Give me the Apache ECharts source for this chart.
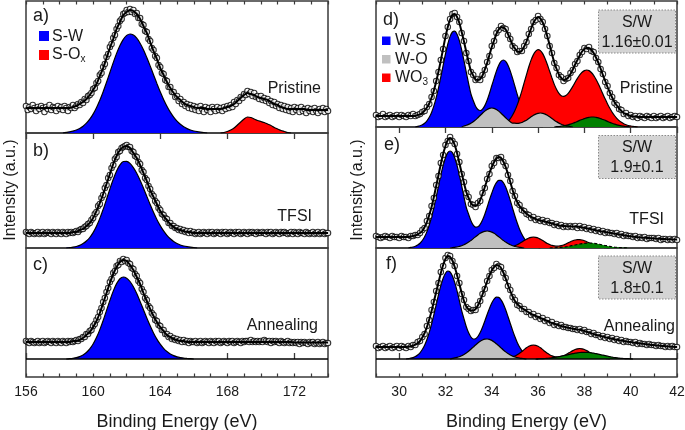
<!DOCTYPE html>
<html><head><meta charset="utf-8">
<script src="https://cdn.jsdelivr.net/npm/echarts@6/dist/echarts.min.js"></script>
<style>html,body{margin:0;padding:0;background:#fff}#c{width:685px;height:430px}</style>
</head><body><div id="c"></div>
<script>
// ---------- energy grids ----------
const leftStart = 156, leftEnd = 174, rightStart = 29, rightEnd = 42;
const dataStep = 0.1, leftFitStep = 0.2, compStep = 0.2, rCompStep = 0.1;
const leftMajorTicks = [156, 160, 164, 168, 172];
const rightMajorTicks = [30, 32, 34, 36, 38, 40, 42];

// ---------- S 2p (left column) measured data, 0.1 eV steps from 156 ----------
const aData = [27,23,26,24,28,25,22,26,24,27, 25,21,26,24,28,23,26,25,22,27, 24,26,23,27,25,22,26,25,28,25,
 27,29,28,31,30,34,33,37,38,40, 44,45,50,52,58,60,66,69,76,79, 86,89,95,98,104,107,112,114,119,120,
 123,121,124,121,123,119,120,115,115,109, 108,102,101,94,92,85,83,77,75,68, 66,60,59,53,52,46,46,41,41,36,
 37,32,34,29,31,27,29,25,28,24, 27,23,26,22,27,24,21,26,23,25, 21,26,24,22,26,23,25,22,26,24,
 27,25,28,26,31,29,33,32,36,35, 39,38,42,39,41,37,40,36,37,34, 37,33,35,32,34,30,32,28,31,27,
 29,25,28,24,27,23,26,22,25,21, 26,23,25,21,26,22,24,20,25,22, 24,21,25,22,20,24,22,25,21,24, 22];
const bData = [16,15,14,16,15,14,15,16,14,15, 16,14,15,16,15,14,16,15,14,16, 15,14,16,15,14,16,15,16,15,16,
 17,16,18,19,19,21,22,24,25,28, 30,34,36,42,44,50,53,60,63,70, 73,80,83,89,91,96,97,100,101,102,
 103,101,101,97,96,92,91,86,84,78, 76,70,68,62,59,54,52,47,45,40, 38,34,33,30,29,25,25,22,22,20,
 20,18,19,17,18,16,17,15,17,15, 16,14,15,16,14,15,16,15,14,16, 15,16,14,15,16,15,14,16,15,16,
 14,15,16,15,14,16,15,16,14,15, 16,15,14,16,15,16,15,14,16,15, 15,16,15,14,16,15,16,14,15,16,
 15,14,16,15,16,15,14,15,16,14, 16,15,14,16,15,15,14,16,15,14, 15,16,14,15,16,14,15,16,14,15, 15];
const cData = [18,17,16,18,17,16,17,18,16,17, 18,16,17,18,17,16,18,17,16,18, 17,16,18,17,16,18,17,18,17,18,
 19,18,20,20,22,22,25,25,28,29, 33,35,39,42,47,51,57,61,67,71, 77,80,86,88,93,94,98,97,100,98,
 99,96,95,91,90,85,83,78,76,70, 67,61,59,53,51,46,44,39,38,34, 33,29,29,25,25,22,23,20,21,19,
 20,18,19,17,19,17,18,16,18,17, 17,18,16,17,18,16,17,18,17,16, 18,17,16,18,17,18,16,17,18,17,
 16,18,17,18,16,17,18,17,16,18, 17,18,18,17,19,17,18,17,18,17, 18,17,19,18,17,18,16,18,17,18,
 17,16,18,17,16,17,18,16,17,16, 17,16,17,15,17,16,17,16,15,17, 16,17,15,16,17,15,16,17,15,16, 16];

// ---------- S 2p fitted envelopes, 0.2 eV steps from 156 ----------
const aFit = [25,25,25,25,25,25,25,25,25,25, 25,25,25,25,26,27,29,31,34,38, 43,49,57,65,75,85,94,104,111,118,
 121,123,122,119,114,107,100,91,82,74, 65,58,51,45,40,36,33,30,28,27, 26,25,25,25,24,24,24,24,24,25,
 26,27,29,32,35,38,40,39,38,36, 35,34,33,31,29,28,26,25,24,24, 24,24,24,24,23,23,23,23,23,23, 23];
const bFit = [15,15,15,15,15,15,15,15,15,15, 15,15,15,15,16,16,18,19,22,25, 30,37,45,54,64,74,84,92,98,101,
 102,100,95,90,83,75,67,58,51,44, 37,32,28,24,21,19,18,17,16,16, 15,15,15,15,15,15,15,15,15,15,
 15,15,15,15,15,15,15,15,15,15, 15,15,15,15,15,15,15,15,15,15, 15,15,15,15,15,15,15,15,15,15, 15];
const cFit = [17,17,17,17,17,17,17,17,17,17, 17,17,17,17,18,18,19,21,24,27, 32,38,46,56,66,76,85,92,97,99,
 98,94,89,82,75,66,58,50,43,37, 32,28,24,22,20,19,18,18,17,17, 17,17,17,17,17,17,17,17,17,17,
 17,17,17,17,17,17,17,17,17,17, 17,17,17,17,17,17,17,17,17,17, 16.5,16.5,16.5,16.5,16.5,16.5,16.5,16.5,16.5,16.5, 16.5];

// ---------- S 2p components, 0.2 eV steps ----------
const aSWFrom = 158.2;
const aSW = [0,0.7,1.2,1.9,3.0,4.6,6.8,9.8,13.8,18.9,25.3,32.7,41.3,50.7,60.5,70.4,79.6,87.5,93.7,97.6,99,
 97.9,94.8,89.8,83.3,75.5,67.1,58.3,49.6,41.2,33.6,26.8,20.9,15.9,11.9,8.7,6.2,4.4,3.0,2.0,1.3,0.8,0.5,0];
const aSOxFrom = 167.6;
const aSOx = [0,0.5,1.5,3,5,8,11,14,16,15.5,14,12.5,11.5,10.5,9,7.5,5.5,4,2.5,1.5,0.5,0];
const bSWFrom = 158.4;
const bSW = [0,0.4,0.8,1.5,2.6,4.4,7.0,10.5,15.4,21.8,29.6,38.7,48.7,59.0,68.7,77.1,83.2,86.5,86.7,84.6,80.4,
 74.7,67.7,59.9,51.7,43.5,35.8,28.6,22.4,17.1,12.7,9.2,6.5,4.5,3.0,2.0,1.3,0.8,0.5,0];
const cSWFrom = 158.4;
const cSW = [0,0.3,0.7,1.3,2.4,4.0,6.5,10.1,15.0,21.4,29.4,38.5,48.6,58.6,67.9,75.4,80.3,82,80.8,77.5,72.2,
 65.4,57.6,49.3,41.0,33.2,26.1,19.9,14.8,10.7,7.5,5.1,3.4,2.2,1.4,0.8,0.5,0.3,0];

// ---------- W 4f (right column) measured data, 0.1 eV steps from 29 ----------
const dData = [12,10,11,13,10,11,12,10,11,12, 10,12,11,10,12,11,13,11,12,13, 15,16,20,23,30,36,46,55,67,78,
 91,100,108,113,114,110,105,94,86,74, 66,55,52,47,48,47,52,57,65,71, 81,86,94,97,101,99,98,92,88,81,
 79,75,76,76,81,85,93,98,105,107, 111,108,105,98,91,81,74,64,59,52, 50,46,48,49,54,57,63,66,72,75,
 79,78,80,76,75,69,65,58,53,45, 41,34,30,24,22,18,17,13,14,11, 12,10,11,9,11,10,9,11,10,9,
 11,9,10,11,9,10,11,9,10,11, 10];
const eData = [12,11,10,11,12,11,10,12,11,11, 10,12,11,11,10,12,12,13,13,15, 18,20,27,32,42,50,63,72,85,93,
 103,107,111,107,104,94,86,74,66,55, 51,44,43,41,45,47,55,60,69,74, 82,85,90,90,91,86,82,73,67,57,
 52,45,43,38,37,34,33,30,31,28, 29,27,28,26,27,25,25,23,24,22, 23,21,22,21,22,21,22,20,22,20,
 21,19,20,18,19,17,18,16,17,15, 16,15,15,14,15,13,14,12,13,12, 12,11,12,10,11,10,11,9,10,10,
 10,9,10,8,9,9,8,9,8,9, 8];
const fData = [13,11,12,13,11,12,13,11,12,13, 11,13,12,11,13,12,14,14,17,18, 22,25,33,39,49,57,68,76,87,93,
 101,104,103,98,93,83,76,65,59,52, 50,48,49,49,54,58,65,70,78,83, 89,91,95,93,92,86,81,73,69,62,
 59,54,53,50,50,47,47,44,45,42, 43,40,41,38,39,36,37,34,35,33, 34,32,32,31,31,30,30,29,30,28,
 29,27,27,25,26,24,24,22,23,21, 22,20,21,19,20,18,19,17,18,17, 17,16,17,15,16,15,15,14,15,14,
 14,13,14,13,13,12,13,12,13,12, 12];

// ---------- W 4f fitted envelopes, 0.1 eV steps from 29 ----------
const dFit = [11,11,11,11,11,11,11,11,11,11, 11,11,11,11,11,11,11,11,12,12.5, 14,16.5,19.5,23.5,29.5,36.5,45.5,55.5,66.5,78.5,
 90,100,107.5,112,113,110,104,95,85.5,75, 65,56,51.5,47.5,47,48,51.5,57.5,64,72, 80,86.5,93,97.5,100,99.5,97.5,93,87.5,82,
 78.5,75.5,75,76.5,80.5,85.5,92,98.5,104,108, 110,108.5,104.5,98.5,90.5,82,73,64.5,58,52.5, 49,47,47.5,49.5,53,57.5,62.5,67,71.5,75.5,
 78,79,79,77,74,69.5,64.5,58.5,52,46, 40,34.5,29.5,25,21.5,18.5,16,14,13,12, 11,10.5,10.5,10,10,10,10,10,10,10,
 10,10,10,10,10,10,10,10,10,10, 10];
const eFit = [11,11,11,11,11,11,11,11,11,11, 11,11,11,11,11,11.5,12,12.5,13.5,15, 17,21,26,33,41,51,62,73,84,94,
 102,108,110,108,103,95,85,75,65,56, 50,45,42.5,42,44,48,54,61,68,75, 81,86,89.5,91,90,86.5,81,74,66,58,
 51,46,42,39,36.5,34.5,32.5,31,30,29, 28,27.5,27,26.5,26,25.2,24.5,23.8,23.2,22.6, 22.2,22,21.8,21.7,21.6,21.5,21.4,21.2,21,20.6,
 20.2,19.7,19.2,18.7,18.2,17.7,17.2,16.8,16.4,16, 15.6,15.2,14.8,14.4,14,13.6,13.2,12.8,12.4,12, 11.7,11.4,11.1,10.8,10.6,10.4,10.2,10,9.9,9.7,
 9.6,9.4,9.3,9.1,9,8.9,8.8,8.7,8.6,8.5, 8.4];
const fFit = [12,12,12,12,12,12,12,12,12,12, 12,12,12,12,12.3,12.7,13.3,14.3,15.8,18, 21.5,26,32,39.5,48,57.5,67,76.5,86,94,
 100,103,102,98.5,92,84,75,66,58,52.5, 49.5,48.5,48.5,50,53.5,58.5,64.5,71,77.5,83.5, 88.5,92,94,93.5,91,86.5,80.5,74,68,62.5,
 58,55,52.8,51,49.5,48,46.5,45,44,43, 42,41,40,39,38,37,36,35.2,34.4,33.7, 33,32.4,31.8,31.3,30.8,30.3,29.9,29.5,29.2,28.7,
 28,27.2,26.5,25.8,25,24.3,23.6,23,22.4,21.8, 21.2,20.7,20.2,19.7,19.2,18.8,18.4,18,17.6,17.2, 16.9,16.5,16.2,15.9,15.6,15.3,15,14.7,14.4,14.1,
 13.9,13.6,13.4,13.2,13,12.8,12.6,12.5,12.3,12.1, 12];

// ---------- W 4f components, 0.1 eV steps ----------
const dWSFrom = 30.7;
const dWS = [0,0.7,1.3,2.2,3.8,6.2,9.7,14.6,21.1,29.3,39.1,50.1,61.7,73.0,82.9,90.6,95.0,95.8,92.8,86.4,77.2,66.3,54.7,
 43.4,33.0,26.5,20.8,17.5,16.5,17.9,21.4,26.7,33.5,41.2,48.6,55.9,61.8,65.7,67,65.7,61.8,55.9,48.6,40.7,32.6,25.1,18.6,
 13.3,9.0,6.0,3.8,2.3,1.4,0.8,0.4,0];
const dWOFrom = 32.7;
const dWO = [0,1.0,1.7,2.6,3.8,5.3,7.1,9.3,11.5,13.8,15.9,17.5,18.6,19.0,18.6,17.5,15.9,13.8,11.5,9.3,7.1,5.3,3.8,3.8,3.6,
 3.9,4.5,5.7,6.8,8.5,10.2,11.7,12.9,13.7,14.0,13.7,12.9,11.7,10.2,8.5,6.8,5.3,3.9,2.8,1.9,1.2,0.8,0.4,0];
const dWO3From = 34.1;
const dWO3 = [0,0.5,0.9,1.5,2.4,3.8,5.7,8.4,12.0,16.5,22.1,28.8,36.2,44.3,52.4,60.2,67.1,72.4,75.8,77.4,76.4,73.4,68.6,
 62.5,55.7,49.0,42.6,37.5,33.6,31.3,30.7,31.5,33.6,36.8,40.6,44.7,48.6,52.1,54.8,56.4,57,56.4,54.5,51.6,47.7,43.2,38.2,
 33.0,27.9,23.1,18.7,14.8,11.5,8.7,6.4,4.7,3.3,2.3,1.5,1.0,0.6,0.4,0];
const dW5pFrom = 36.7;
const dW5p = [0,0.35,0.5,0.8,1.1,1.6,2.2,2.9,3.7,4.6,5.6,6.6,7.5,8.4,9.2,9.7,10.0,10.0,9.7,9.2,8.4,7.5,6.6,5.6,4.6,3.7,
 2.9,2.2,1.6,1.1,0.8,0.5,0.35,0];

const eWSFrom = 30.4;
const eWS = [0,0.6,1.0,1.8,3.0,4.8,7.5,11.3,16.4,23.0,31.0,40.5,51.1,62.2,72.9,82.6,90.3,95.3,97.0,95.3,90.3,82.6,72.9,
 62.2,51.1,40.5,33.7,27.2,22.9,20.9,21.2,23.6,28.0,33.8,40.7,48.1,54.7,60.9,65.3,67.7,67.7,65.3,60.9,54.7,47.5,39.7,
 32.0,25.0,18.8,13.7,9.6,6.5,4.2,2.7,1.6,0.9,0.5,0];
const eWOFrom = 32.2;
const eWO = [0,0.4,0.7,1.0,1.6,2.3,3.3,4.5,5.9,7.6,9.4,11.3,13.1,14.7,15.9,16.7,17,16.7,15.9,14.7,13.1,11.3,9.4,7.6,5.9,
 4.5,3.3,2.3,1.6,1.0,0.7,0.4,0];
const eWO3From = 34.5;
const eWO3 = [0,0.3,0.6,0.9,1.5,2.3,3.3,4.5,5.9,7.4,8.8,10.0,10.7,11.0,10.7,10.0,8.8,7.4,5.9,4.5,3.5,2.6,2.1,1.8,2.0,
 2.4,3.0,4.0,5.2,6.3,7.3,8.0,8.4,8.4,8.0,7.3,6.3,5.2,4.0,3.0,2.1,1.4,0.9,0.6,0.3,0.2,0];
const eW5pFrom = 36.5;
const eW5p = [0,0.15,0.2,0.3,0.5,0.7,0.9,1.2,1.6,2.1,2.5,3.0,3.5,4.0,4.4,4.7,4.9,5.0,4.9,4.7,4.4,4.0,3.5,3.0,2.5,2.1,
 1.6,1.2,0.9,0.7,0.5,0.3,0.2,0.15,0];

const fWSFrom = 30.3;
const fWS = [0,0.4,0.8,1.4,2.4,4.0,6.2,9.5,13.8,19.5,26.6,35.0,44.4,54.4,64.3,73.3,80.7,85.8,88.0,87.0,83.1,76.6,68.1,
 58.4,48.4,40.1,32.3,26.2,22.0,20.0,20.3,22.5,26.4,31.7,37.9,44.5,50.5,56.0,59.9,61.8,61.6,59.2,55.0,49.2,42.5,35.5,
 28.6,22.2,16.6,12.0,8.4,5.7,3.7,2.3,1.4,0.8,0.4,0];
const fWOFrom = 32.2;
const fWO = [0,0.7,1.1,1.6,2.3,3.3,4.6,6.1,7.8,9.8,11.9,14.0,16.0,17.7,19.0,19.8,20.0,19.6,18.6,17.1,15.2,13.2,11.1,9.0,
 7.1,5.4,4.0,2.9,2.0,1.4,0.9,0.6,0.4,0];
const fWO3From = 34.6;
const fWO3 = [0,0.7,1.2,1.9,2.9,4.2,5.8,7.5,9.4,11.2,12.7,13.7,14.0,13.7,12.7,11.2,9.4,7.5,5.8,4.2,3.2,2.4,2.1,2.1,2.6,
 3.1,4.3,5.7,7.1,8.4,9.5,10.2,10.5,10.2,9.5,8.4,7.1,5.7,4.3,3.1,2.2,1.4,0.9,0.5,0.3,0];
const fW5pFrom = 35.9;
const fW5p = [0,0.2,0.3,0.4,0.5,0.7,0.9,1.2,1.5,1.9,2.3,2.8,3.3,3.8,4.3,4.9,5.4,5.8,6.2,6.5,6.6,6.7,6.6,6.5,6.2,5.8,
 5.4,4.9,4.3,3.8,3.3,2.8,2.3,1.9,1.5,1.2,0.9,0.7,0.5,0.4,0.3,0.2,0];

// ---------- texts ----------
const panelLetters = ['a)','b)','c)','d)','e)','f)'];
const sampleNames = ['Pristine','TFSI','Annealing'];
const ratioValues = ['1.16±0.01','1.9±0.1','1.8±0.1'];
const xTitle = 'Binding Energy (eV)';
const yTitle = 'Intensity (a.u.)';

// ---------- build ----------
const FONT = '"Liberation Sans", Arial, Helvetica, sans-serif';
const INK = '#1a1a1a';
const BLUE = '#0000ff', RED = '#ff0000', GRAY = '#c0c0c0', GREEN = '#008000';
function pairs(from, step, arr) { return arr.map((v, i) => [Math.round((from + i * step) * 100) / 100, v]); }

const grids = [
  {left: 26, top: 1, width: 302, height: 132},
  {left: 26, top: 133, width: 302, height: 115},
  {left: 26, top: 248, width: 302, height: 129},
  {left: 376, top: 1, width: 301, height: 126},
  {left: 376, top: 127, width: 301, height: 121},
  {left: 376, top: 248, width: 301, height: 129}
].map(g => Object.assign({show: true, borderColor: '#3a3a3a', borderWidth: 1.5, backgroundColor: 'transparent',
  containLabel: false, outerBoundsMode: 'none'}, g));

const yRanges = [[0, 132], [0, 115], [-18, 111], [0, 126], [0, 121], [-18, 111]];
const yAxes = yRanges.map((r, i) => ({gridIndex: i, type: 'value', min: r[0], max: r[1], show: false}));

function majorAxis(gi, min, max, ticks, pos, withLabels) {
  return {gridIndex: gi, type: 'value', min, max, position: pos,
    axisLine: {show: false}, splitLine: {show: false},
    axisTick: {show: true, inside: true, length: 6, customValues: ticks, lineStyle: {color: '#3a3a3a', width: 1.3}},
    axisLabel: {show: withLabels, customValues: ticks, color: INK, fontSize: 14, fontFamily: FONT, margin: 8},
    name: withLabels ? xTitle : '', nameLocation: 'middle', nameGap: 36,
    nameTextStyle: {color: INK, fontSize: 18, fontFamily: FONT}};
}
function minorAxis(gi, min, max, pos) {
  return {gridIndex: gi, type: 'value', min, max, interval: 1, position: pos,
    axisLine: {show: false}, splitLine: {show: false}, axisLabel: {show: false},
    axisTick: {show: true, inside: true, length: 3.5, lineStyle: {color: '#3a3a3a', width: 1.2}}};
}
function hiddenAxis(gi, min, max) { return {gridIndex: gi, type: 'value', min, max, show: false}; }

const xAxes = [
  majorAxis(0, leftStart, leftEnd, leftMajorTicks, 'top', false),   // 0
  minorAxis(0, leftStart, leftEnd, 'top'),                            // 1
  hiddenAxis(1, leftStart, leftEnd),                                  // 2
  majorAxis(2, leftStart, leftEnd, leftMajorTicks, 'bottom', true),   // 3
  minorAxis(2, leftStart, leftEnd, 'bottom'),                         // 4
  majorAxis(3, rightStart, rightEnd, rightMajorTicks, 'top', false),  // 5
  minorAxis(3, rightStart, rightEnd, 'top'),                          // 6
  hiddenAxis(4, rightStart, rightEnd),                                // 7
  majorAxis(5, rightStart, rightEnd, rightMajorTicks, 'bottom', true),// 8
  minorAxis(5, rightStart, rightEnd, 'bottom')                        // 9
];
const xIdx = [0, 2, 3, 5, 7, 8];

function comp(name, color, gi, from, step, arr, z, dashed) {
  return {type: 'line', name, xAxisIndex: xIdx[gi], yAxisIndex: gi, data: pairs(from, step, arr),
    symbol: 'none', smooth: 0.3, silent: true, z,
    lineStyle: {color: '#000', width: 1.2, type: dashed ? [3, 2] : 'solid'},
    itemStyle: {color}, areaStyle: {color, opacity: 1}};
}
function fit(gi, from, step, arr) {
  return {type: 'line', name: 'fit', xAxisIndex: xIdx[gi], yAxisIndex: gi, data: pairs(from, step, arr),
    symbol: 'none', smooth: 0.3, silent: true, z: 6, lineStyle: {color: '#000', width: 2}};
}
function meas(gi, from, arr) {
  return {type: 'scatter', name: 'data', xAxisIndex: xIdx[gi], yAxisIndex: gi, data: pairs(from, dataStep, arr),
    symbol: 'circle', symbolSize: 5.5, silent: true, z: 5,
    itemStyle: {color: '#fff', borderColor: '#000', borderWidth: 1.1}};
}
const baseLine = {silent: true, symbol: 'none', label: {show: false}, animation: false,
  lineStyle: {color: '#000', width: 1.5, type: 'solid'}, data: [{yAxis: 0}]};

const series = [
  comp('S-W', BLUE, 0, aSWFrom, compStep, aSW, 2), comp('S-Ox', RED, 0, aSOxFrom, compStep, aSOx, 2),
  meas(0, leftStart, aData), fit(0, leftStart, leftFitStep, aFit),
  comp('S-W', BLUE, 1, bSWFrom, compStep, bSW, 2),
  meas(1, leftStart, bData), fit(1, leftStart, leftFitStep, bFit),
  Object.assign(comp('S-W', BLUE, 2, cSWFrom, compStep, cSW, 2), {markLine: baseLine}),
  meas(2, leftStart, cData), fit(2, leftStart, leftFitStep, cFit),

  comp('W-S', BLUE, 3, dWSFrom, rCompStep, dWS, 2), comp('WO3', RED, 3, dWO3From, rCompStep, dWO3, 3),
  comp('W-O', GRAY, 3, dWOFrom, rCompStep, dWO, 4), comp('W 5p', GREEN, 3, dW5pFrom, rCompStep, dW5p, 4),
  meas(3, rightStart, dData), fit(3, rightStart, dataStep, dFit),
  comp('W-S', BLUE, 4, eWSFrom, rCompStep, eWS, 2), comp('WO3', RED, 4, eWO3From, rCompStep, eWO3, 3),
  comp('W-O', GRAY, 4, eWOFrom, rCompStep, eWO, 4), comp('W 5p', GREEN, 4, eW5pFrom, rCompStep, eW5p, 4, true),
  meas(4, rightStart, eData), fit(4, rightStart, dataStep, eFit),
  Object.assign(comp('W-S', BLUE, 5, fWSFrom, rCompStep, fWS, 2), {markLine: baseLine}),
  comp('WO3', RED, 5, fWO3From, rCompStep, fWO3, 3),
  comp('W-O', GRAY, 5, fWOFrom, rCompStep, fWO, 4), comp('W 5p', GREEN, 5, fW5pFrom, rCompStep, fW5p, 4),
  meas(5, rightStart, fData), fit(5, rightStart, dataStep, fFit)
];

function txt(text, x, y, size, align, extra) {
  return Object.assign({type: 'text', x, y, z: 50, silent: true,
    style: {text, fontSize: size, fontFamily: FONT, fill: INK, align: align || 'left', verticalAlign: 'middle'}}, extra || {});
}
function richTxt(main, sub, x, y) {
  return {type: 'text', x, y, z: 50, silent: true, style: {text: '{m|' + main + '}{s|' + sub + '}', fontFamily: FONT,
    fill: INK, verticalAlign: 'middle', rich: {m: {fontSize: 16, fontFamily: FONT, fill: INK, lineHeight: 18},
    s: {fontSize: 10, fontFamily: FONT, fill: INK, verticalAlign: 'bottom', lineHeight: 14}}}};
}
function sq(x, y, s, color) { return {type: 'rect', z: 50, silent: true, shape: {x, y, width: s, height: s}, style: {fill: color}}; }
function box(y, value) {
  return [{type: 'rect', z: 49, silent: true, shape: {x: 598.5, y, width: 77, height: 43},
      style: {fill: '#d4d4d4', stroke: '#8a8a8a', lineWidth: 1, lineDash: [1.5, 1.5]}},
    txt('S/W', 637, y + 12.5, 16, 'center'), txt(value, 637, y + 32.5, 16, 'center')];
}

const graphic = [
  txt(panelLetters[0], 33, 16, 18), txt(panelLetters[1], 33, 151, 18), txt(panelLetters[2], 33, 265, 18),
  txt(panelLetters[3], 383, 20, 18), txt(panelLetters[4], 384, 145, 18), txt(panelLetters[5], 386, 264, 18),
  txt(sampleNames[0], 321, 88.5, 16, 'right'), txt(sampleNames[1], 312, 217, 16, 'right'), txt(sampleNames[2], 318, 326, 16, 'right'),
  txt(sampleNames[0], 673, 88.5, 16, 'right'), txt(sampleNames[1], 664, 220, 16, 'right'), txt(sampleNames[2], 675, 327, 16, 'right'),
  sq(39, 31, 10, BLUE), txt('S-W', 52, 36.5, 16), sq(39, 50, 10, RED), richTxt('S-O', 'x', 52, 55),
  sq(382, 36.5, 8.5, BLUE), txt('W-S', 395, 40.5, 16), sq(382, 55, 8.5, GRAY), txt('W-O', 395, 59.5, 16),
  sq(382, 73.5, 8.5, RED), richTxt('WO', '3', 395, 78),
  ...box(10, ratioValues[0]), ...box(135.5, ratioValues[1]), ...box(256, ratioValues[2]),
  txt(yTitle, 11, 190, 16, 'center', {rotation: Math.PI / 2}),
  txt(yTitle, 358, 190, 16, 'center', {rotation: Math.PI / 2})
];

const chart = echarts.init(document.getElementById('c'), null, {renderer: 'canvas'});
chart.setOption({animation: false, backgroundColor: '#fff', grid: grids, xAxis: xAxes, yAxis: yAxes, series, graphic});
</script></body></html>
